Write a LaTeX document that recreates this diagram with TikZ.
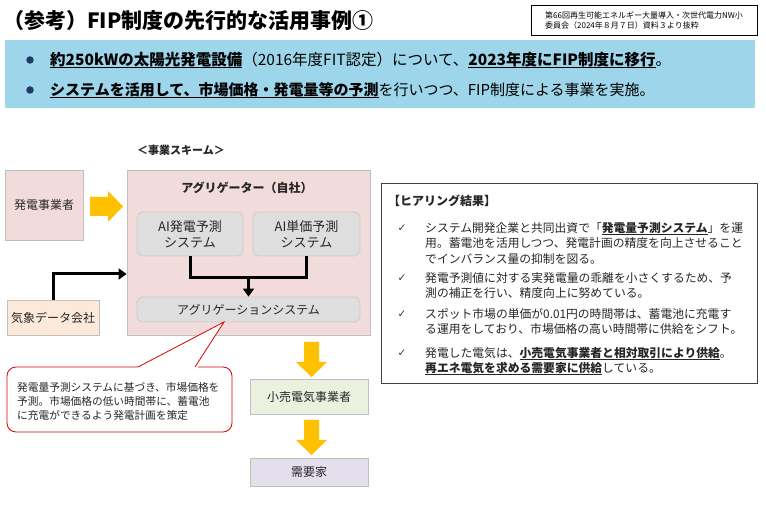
\documentclass[tikz,border=0pt]{standalone}
\usepackage{fontspec}
\setmainfont{Noto Sans CJK JP}
\newfontfamily\dejavu{DejaVu Sans}
\usetikzlibrary{arrows.meta}
\definecolor{pinkbg}{HTML}{F2DCDB}
\definecolor{peach}{HTML}{FDE9D9}
\definecolor{greenbg}{HTML}{EBF1DE}
\definecolor{lav}{HTML}{E4DFEC}
\definecolor{bandblue}{HTML}{9DD5EA}
\definecolor{navy}{HTML}{1F3864}
\definecolor{yel}{HTML}{FFC000}
\definecolor{boxgray}{HTML}{DEDEDE}
\definecolor{edgegray}{HTML}{BFBFBF}
\definecolor{txt}{HTML}{262626}
\newcommand\ubf[1]{\setbox0\hbox{\textbf{#1}}\rlap{\rule[-2.4pt]{\wd0}{1.1pt}}\box0}
\begin{document}
\begin{tikzpicture}[x=1pt,y=-1pt,
  every node/.style={text=txt},
  plainbox/.style={draw=edgegray,line width=0.8pt,inner sep=0pt,align=center,font=\fontsize{12}{14}\selectfont},
  sysbox/.style={draw=edgegray!80,fill=boxgray,rounded corners=6pt,line width=0.8pt,inner sep=0pt,align=center},
  blk/.style={line width=3pt,draw=black},
  blkarr/.style={line width=3pt,draw=black,-{Triangle[length=8pt,width=11pt]}},
  yarrow/.style={fill=yel},
  htext/.style={anchor=north west,inner sep=0pt,align=left,font=\fontsize{11.8}{15.5}\selectfont},
  chk/.style={anchor=center,inner sep=0pt,text=navy,font=\dejavu\fontsize{10.5}{10.5}\selectfont},
  bul/.style={circle,fill=navy,inner sep=0pt,minimum size=7.5pt}
]
\useasboundingbox (0,0) rectangle (766,510);
\fill[white] (0,0) rectangle (766,510);

% title
\node[anchor=west,inner sep=0pt,text=black,font=\fontsize{21}{21}\selectfont\bfseries] (title) at (3,21) {（参考）FIP制度の先行的な活用事例①};
\node[draw=black,line width=0.6pt,minimum width=226pt,minimum height=30pt,inner sep=0pt,align=left,text=black,font=\fontsize{8}{10}\selectfont] (src) at (644,20) {第66回再生可能エネルギー大量導入・次世代電力NW小\\委員会（2024年８月７日）資料３より抜粋};

% blue band
\fill[bandblue] (5,40) rectangle (755,108);
\node[bul] (b1) at (30,60) {};
\node[bul] (b2) at (30,90) {};
\node[anchor=west,inner sep=0pt,text=black,font=\fontsize{15.5}{18}\selectfont] (l1) at (50,60) {\ubf{約250kWの太陽光発電設備}（2016年度FIT認定）について、\ubf{2023年度にFIP制度に移行}。};
\node[anchor=west,inner sep=0pt,text=black,font=\fontsize{15}{18}\selectfont] (l2) at (50,90) {\ubf{システムを活用して、市場価格・発電量等の予測}を行いつつ、FIP制度による事業を実施。};

% scheme label
\node[font=\fontsize{11}{11}\selectfont\bfseries,inner sep=0pt] (scheme) at (181,150) {＜事業スキーム＞};

% boxes
\node[plainbox,fill=pinkbg,minimum width=78pt,minimum height=70pt] (gen) at (44,205) {発電事業者};
\node[plainbox,fill=pinkbg,minimum width=243pt,minimum height=165pt] (agg) at (248.5,252.5) {};
\node[inner sep=0pt,font=\fontsize{12}{12}\selectfont\bfseries] (aggt) at (247,188) {アグリゲーター（自社）};
\node[sysbox,minimum width=106pt,minimum height=44pt,font=\fontsize{13}{16}\selectfont] (ai1) at (190,234) {AI発電予測\\システム};
\node[sysbox,minimum width=107pt,minimum height=44pt,font=\fontsize{13}{16}\selectfont] (ai2) at (306.5,234) {AI単価予測\\システム};
\node[sysbox,minimum width=223pt,minimum height=25pt,font=\fontsize{12}{14}\selectfont] (agsys) at (248.5,309.5) {アグリゲーションシステム};
\node[plainbox,fill=peach,minimum width=92pt,minimum height=35pt] (wx) at (53,317.5) {気象データ会社};
\node[plainbox,fill=greenbg,minimum width=118pt,minimum height=35pt] (retail) at (309,396.5) {小売電気事業者};
\node[plainbox,fill=lav,minimum width=118pt,minimum height=28pt] (dem) at (309,472) {需要家};

% connectors inside aggregator
\coordinate (junc) at (agsys.north |- 0,278);
\draw[blk,line cap=butt] (ai1.south) -- (ai1.south |- junc) -- (ai2.south |- junc) -- (ai2.south);
\draw[blkarr] (junc) -- (agsys.north);
% weather arrow
\coordinate (aggin) at (agg.west |- 0,274);
\draw[blkarr] (wx.north) |- (aggin);

% yellow block arrows
\fill[yarrow] (90,197) -- (108,197) -- (108,191) -- (123,206.5) -- (108,222) -- (108,216) -- (90,216) -- cycle;
\fill[yarrow] (304,342) -- (319,342) -- (319,362) -- (327,362) -- (311.5,377) -- (296,362) -- (304,362) -- cycle;
\fill[yarrow] (304,420) -- (319,420) -- (319,440) -- (327,440) -- (311.5,455) -- (296,440) -- (304,440) -- cycle;

% callout
\draw[red!85!black,line width=0.8pt,fill=white,rounded corners=9pt] (7,367) rectangle (232,432);
\fill[white] (136,368.5) -- (224,322) -- (197,368.5) -- cycle;
\draw[red!85!black,line width=0.8pt,line join=miter] (138,367) -- (224,322) -- (195,367);
\node[anchor=north west,inner sep=0pt,align=left,font=\fontsize{10.7}{14}\selectfont] (callt) at (17,382) {発電量予測システムに基づき、市場価格を\\予測。市場価格の低い時間帯に、蓄電池\\に充電ができるよう発電計画を策定};

% hearing box
\node[draw=black!75,line width=0.8pt,minimum width=376pt,minimum height=200pt,inner sep=0pt] (hear) at (569,283) {};
\node[anchor=west,inner sep=0pt,font=\fontsize{12}{12}\selectfont\bfseries] (heart) at (388,201) {【ヒアリング結果】};
\node[chk] (c1) at (402,228) {✓};
\node[chk] (c2) at (402,278) {✓};
\node[chk] (c3) at (402,314) {✓};
\node[chk] (c4) at (402,353) {✓};
\node[htext] (h1) at (425,222) {システム開発企業と共同出資で「\ubf{発電量予測システム}」を運\\用。蓄電池を活用しつつ、発電計画の精度を向上させること\\でインバランス量の抑制を図る。};
\node[htext] (h2) at (425,272) {発電予測値に対する実発電量の乖離を小さくするため、予\\測の補正を行い、精度向上に努めている。};
\node[htext] (h3) at (425,308) {スポット市場の単価が0.01円の時間帯は、蓄電池に充電す\\る運用をしており、市場価格の高い時間帯に供給をシフト。};
\node[htext] (h4) at (425,347) {発電した電気は、\ubf{小売電気事業者と相対取引により供給}。\\\ubf{再エネ電気を求める需要家に供給}している。};
\end{tikzpicture}
\end{document}
